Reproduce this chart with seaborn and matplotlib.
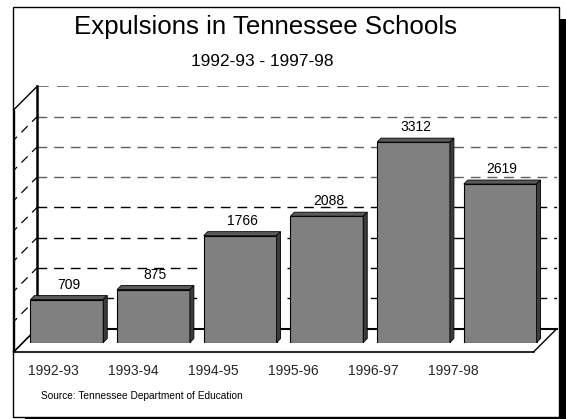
import matplotlib
matplotlib.use("Agg")
import matplotlib.pyplot as plt
import seaborn as sns
import numpy as np
import pandas as pd
from matplotlib.patches import Rectangle, Polygon
from matplotlib.lines import Line2D
from matplotlib.transforms import IdentityTransform

# ---- data ----
categories = ["1992-93", "1993-94", "1994-95", "1995-96", "1996-97", "1997-98"]
values = [709, 875, 1766, 2088, 3312, 2619]
grid_values = [500, 1000, 1500, 2000, 2500, 3000, 3500]
y_max = 4000
title = "Expulsions in Tennessee Schools"
subtitle = "1992-93 - 1997-98"
source = "Source: Tennessee Department of Education"

sns.set_theme(style="white")
plt.rcParams['font.family'] = ['Liberation Sans', 'DejaVu Sans']

W, H = 566, 419
fig = plt.figure(figsize=(W / 100, H / 100), dpi=100)
fig.patch.set_facecolor("white")


def fx(px):
    return px / W


def fy(py):  # top-origin pixel -> figure fraction
    return (H - py) / H


def rect(x0, y0, x1, y1):  # top-origin pixel box -> [l, b, w, h]
    return [fx(x0), fy(y1), fx(x1) - fx(x0), fy(y0) - fy(y1)]


# ---- frame and shadow ----
fig.patches.append(Rectangle((fx(559), 0), fx(566) - fx(559), fy(19), transform=fig.transFigure,
                             facecolor="black", edgecolor="none", zorder=-3))
fig.patches.append(Rectangle((fx(25), 0), fx(566) - fx(25), fy(417), transform=fig.transFigure,
                             facecolor="black", edgecolor="none", zorder=-3))
fig.patches.append(Rectangle((fx(13), fy(417)), fx(559) - fx(13), fy(7) - fy(417), transform=fig.transFigure,
                             facecolor="white", edgecolor="black", linewidth=1.0, zorder=-2))

# ---- texts ----
fig.text(fx(266), fy(27), title, ha="center", va="center", fontsize=18.6, color="black")
fig.text(fx(262), fy(62), subtitle, ha="center", va="center", fontsize=12.4, color="black")
fig.text(fx(41), fy(396), source, ha="left", va="center", fontsize=7.3, color="black")

# ---- back wall axes ----
D = 23.5  # depth offset in px
dash = (0, (7, 5))
ax_back = fig.add_axes(rect(37, 86.5, 557, 328.5))
ax_back.set_zorder(1)
ax_back.set_xlim(-0.5, 5.5)
ax_back.set_ylim(0, y_max)
ax_back.patch.set_alpha(0)
for s in ["top", "right"]:
    ax_back.spines[s].set_visible(False)
ax_back.spines["left"].set_color("black")
ax_back.spines["left"].set_linewidth(1.8)
ax_back.spines["bottom"].set_color("black")
ax_back.spines["bottom"].set_linewidth(1.5)
ax_back.set_xticks([])
ax_back.set_yticks([])
for v in grid_values:
    col = "black" if v <= 2000 else "#606060"
    ax_back.axhline(v, color=col, linestyle=dash, linewidth=1.0)
ax_back.axhline(y_max, color="#606060", linestyle=dash, linewidth=1.2)

# ---- bar plane axes ----
ax = fig.add_axes(rect(37 - 13.5, 86.5 + 14, 557 - 13.5, 328.5 + 14))
ax.set_zorder(2)
df = pd.DataFrame({"year": categories, "expulsions": values})
sns.barplot(data=df, x="year", y="expulsions", color="#808080", saturation=1,
            edgecolor="black", linewidth=0.8, width=0.84, ax=ax)
ax.set_xlim(-0.5, 5.5)
ax.set_ylim(0, y_max)
ax.axis("off")
ax.patch.set_alpha(0)

# ---- category labels axes ----
ax_lab = fig.add_axes(rect(13, 355, 493, 360))
ax_lab.set_zorder(2)
ax_lab.set_xlim(-0.5, 5.5)
ax_lab.set_xticks(range(len(categories)))
ax_lab.set_xticklabels(categories, fontsize=10)
ax_lab.set_yticks([])
ax_lab.tick_params(axis="x", length=0, pad=3)
for s in ax_lab.spines.values():
    s.set_visible(False)
ax_lab.patch.set_alpha(0)

fig.canvas.draw()

# 3D faces of bars
d = 4
for p, v in zip(ax.patches, values):
    (x0, y0), (x1, y1) = ax.transData.transform([(p.get_x(), 0), (p.get_x() + p.get_width(), p.get_height())])
    top = Polygon([(x0, y1), (x1, y1), (x1 + d, y1 + d), (x0 + d, y1 + d)], closed=True,
                  facecolor="#5a5a5a", edgecolor="black", linewidth=0.6, transform=IdentityTransform())
    side = Polygon([(x1, y0), (x1 + d, y0 + d), (x1 + d, y1 + d), (x1, y1)], closed=True,
                   facecolor="#3c3c3c", edgecolor="black", linewidth=0.6, transform=IdentityTransform())
    for poly in (top, side):
        poly.set_figure(fig)
        poly.set_zorder(5)
        fig.artists.append(poly)
    ax.annotate(f"{v}", xy=(p.get_x() + p.get_width() / 2, p.get_height()), xytext=(2, 8),
                textcoords="offset pixels", ha="center", va="bottom", fontsize=10, color="black")

# left wall diagonals and floor, in display pixels
bx0, by0 = ax_back.transData.transform((-0.5, 0))
bx1, _ = ax_back.transData.transform((5.5, 0))
lines = []
for v in grid_values:
    _, yy = ax_back.transData.transform((-0.5, v))
    lines.append(Line2D([bx0 - D, bx0], [yy - D, yy], color="black", linewidth=0.9,
                        linestyle=(3, (7, 5)), transform=IdentityTransform()))
_, ytop = ax_back.transData.transform((-0.5, y_max))
lines.append(Line2D([bx0 - D, bx0], [ytop - D, ytop], color="black", linewidth=1.0, transform=IdentityTransform()))
lines.append(Line2D([bx0 - D, bx0], [by0 - D, by0], color="black", linewidth=1.2, transform=IdentityTransform()))
lines.append(Line2D([bx0 - D, bx1 - D], [by0 - D, by0 - D], color="black", linewidth=1.2, transform=IdentityTransform()))
lines.append(Line2D([bx1 - D, bx1], [by0 - D, by0], color="black", linewidth=1.0, transform=IdentityTransform()))
lines.append(Line2D([bx0 - D, bx0 - D], [by0 - D, ytop - D], color="black", linewidth=1.0, transform=IdentityTransform()))
for ln in lines:
    ln.set_figure(fig)
    ln.set_zorder(1.5)
    fig.lines.append(ln)

fig.savefig("out.png", dpi=100)
